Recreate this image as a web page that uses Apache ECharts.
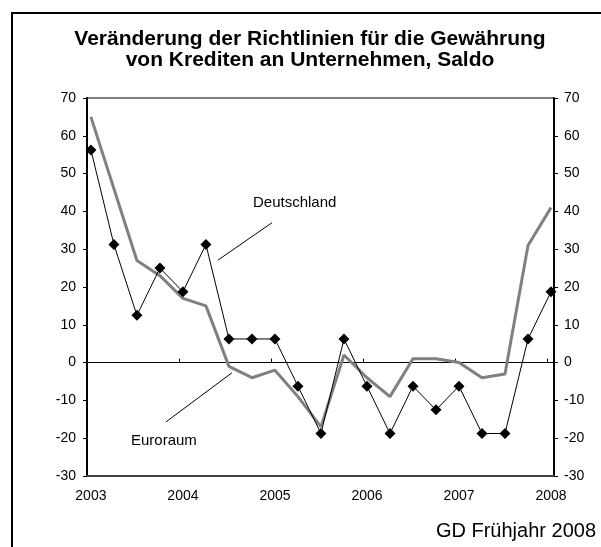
<!DOCTYPE html>
<html>
<head>
<meta charset="utf-8">
<script src="https://cdn.jsdelivr.net/npm/echarts@6/dist/echarts.min.js"></script>
<style>
  html, body { margin: 0; padding: 0; background: #fff; }
  #chart { width: 601px; height: 547px; }
</style>
</head>
<body>
<div id="chart"></div>
<script>
// quarterly survey results, 2003Q1 .. 2008Q1
let quarters = [
  '2003Q1', '2003Q2', '2003Q3', '2003Q4',
  '2004Q1', '2004Q2', '2004Q3', '2004Q4',
  '2005Q1', '2005Q2', '2005Q3', '2005Q4',
  '2006Q1', '2006Q2', '2006Q3', '2006Q4',
  '2007Q1', '2007Q2', '2007Q3', '2007Q4',
  '2008Q1'
];
let deutschland = [
  56.25, 31.25, 12.5, 25, 18.75, 31.25, 6.25, 6.25, 6.25, -6.25, -18.75,
  6.25, -6.25, -18.75, -6.25, -12.5, -6.25, -18.75, -18.75, 6.25, 18.75
];
let euroraum = [
  65, 46, 27, 23, 17, 15, -1, -4, -2, -9, -17,
  2, -4, -9, 1, 1, 0, -4, -3, 31, 41
];
let yearLabels = ['2003', '2004', '2005', '2006', '2007', '2008'];
let yTicks = [-30, -20, -10, 0, 10, 20, 30, 40, 50, 60, 70];

let font = "'Liberation Sans', Arial, sans-serif";

let labelIdx = yearLabels.map((y, i) => i * 4);
let tickIdx = yearLabels.slice(1).map((y, i) => (i + 1) * 4 - 0.17);

function pairs(values) {
  return values.map((v, i) => [i, v]);
}

let chart = echarts.init(document.getElementById('chart'), null, {renderer: 'canvas'});

chart.setOption({
  animation: false,
  backgroundColor: '#fff',
  title: {
    text: 'Veränderung der Richtlinien für die Gewährung\nvon Krediten an Unternehmen, Saldo',
    left: 305,
    top: 24,
    textAlign: 'center',
    textStyle: {
      fontFamily: font,
      fontSize: 21,
      fontWeight: 'bold',
      lineHeight: 21,
      color: '#000'
    }
  },
  graphic: [
    {
      type: 'rect',
      shape: {x: 12, y: 13, width: 700, height: 600},
      style: {fill: 'none', stroke: '#000', lineWidth: 2},
      silent: true
    },
    {
      type: 'text',
      left: 253,
      top: 195,
      style: {text: 'Deutschland', font: '15px ' + font, fill: '#000'}
    },
    {
      type: 'text',
      left: 131,
      top: 433,
      style: {text: 'Euroraum', font: '15px ' + font, fill: '#000'}
    },
    {
      type: 'text',
      right: 5,
      top: 521,
      style: {text: 'GD Frühjahr 2008', font: '20px ' + font, fill: '#000'}
    }
  ],
  grid: {
    left: 87,
    right: 47,
    top: 98,
    bottom: 71,
    show: true,
    borderColor: '#000',
    borderWidth: 1,
    containLabel: false
  },
  xAxis: [
    {
      type: 'value',
      position: 'bottom',
      min: -0.17,
      max: 20.13,
      axisLine: {onZero: false, lineStyle: {color: '#404040', width: 2}},
      axisTick: {show: false},
      splitLine: {show: false},
      axisLabel: {
        customValues: labelIdx,
        formatter: (v) => yearLabels[Math.round(v / 4)],
        fontFamily: font,
        fontSize: 14,
        color: '#000',
        margin: 13
      }
    },
    {
      type: 'value',
      position: 'top',
      min: -0.17,
      max: 20.13,
      axisLine: {onZero: true, lineStyle: {color: '#000', width: 1}},
      axisTick: {customValues: tickIdx, length: 4, lineStyle: {color: '#000'}},
      axisLabel: {show: false},
      splitLine: {show: false}
    }
  ],
  yAxis: [
    {
      type: 'value',
      position: 'left',
      min: yTicks[0],
      max: yTicks[yTicks.length - 1],
      interval: 10,
      axisLine: {show: true, onZero: false, lineStyle: {color: '#000', width: 2}},
      axisTick: {show: true, length: 4, lineStyle: {color: '#000'}},
      splitLine: {show: false},
      axisLabel: {fontFamily: font, fontSize: 14, color: '#000', margin: 11}
    },
    {
      type: 'value',
      position: 'right',
      min: yTicks[0],
      max: yTicks[yTicks.length - 1],
      interval: 10,
      axisLine: {show: true, onZero: false, lineStyle: {color: '#000', width: 2}},
      axisTick: {show: true, length: 4, lineStyle: {color: '#000'}},
      splitLine: {show: false},
      axisLabel: {fontFamily: font, fontSize: 14, color: '#000', margin: 10}
    }
  ],
  series: [
    {
      name: 'Euroraum',
      type: 'line',
      xAxisIndex: 0,
      yAxisIndex: 0,
      data: pairs(euroraum),
      symbol: 'none',
      lineStyle: {color: '#808080', width: 3},
      z: 2,
      markLine: {
        silent: true,
        symbol: 'none',
        label: {show: false},
        lineStyle: {color: '#000', width: 1, type: 'solid'},
        data: [[{coord: [3.26, -15.7]}, {coord: [6.13, -2.7]}]]
      }
    },
    {
      name: 'Deutschland',
      type: 'line',
      xAxisIndex: 0,
      yAxisIndex: 0,
      data: pairs(deutschland),
      symbol: 'diamond',
      symbolSize: 11,
      itemStyle: {color: '#000'},
      lineStyle: {color: '#000', width: 1},
      z: 3,
      markLine: {
        silent: true,
        symbol: 'none',
        label: {show: false},
        lineStyle: {color: '#000', width: 1, type: 'solid'},
        data: [[{coord: [5.52, 27.1]}, {coord: [7.87, 37]}]]
      }
    }
  ]
});
</script>
</body>
</html>
